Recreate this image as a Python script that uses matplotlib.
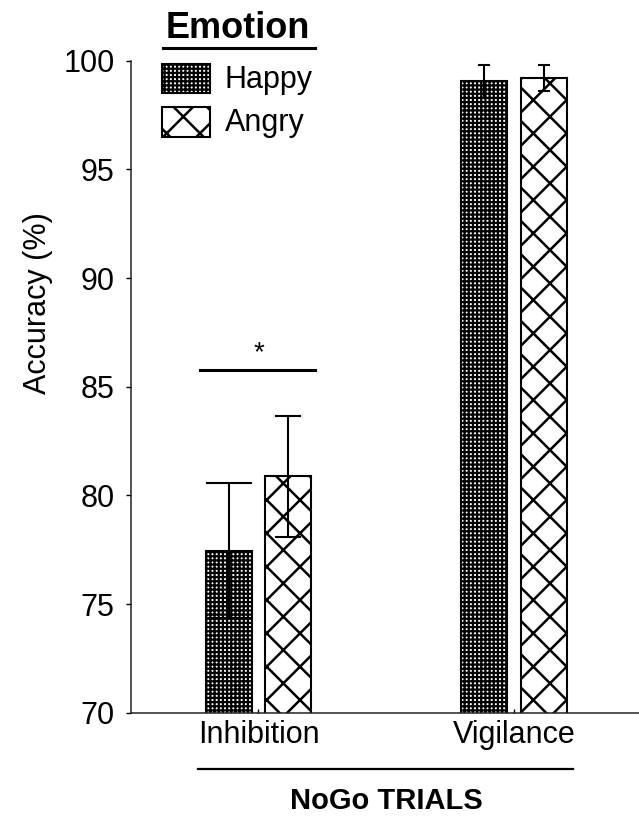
import numpy as np
import matplotlib
matplotlib.use("Agg")
import matplotlib.pyplot as plt
from matplotlib.patches import Rectangle
from matplotlib.lines import Line2D

plt.rcParams['font.family'] = ['Liberation Sans', 'DejaVu Sans']

# data
categories = ['Inhibition', 'Vigilance']
emotions = ['Happy', 'Angry']
happy = [77.45, 99.05]
angry = [80.87, 99.2]
happy_se = [3.1, 0.77]
angry_se = [2.78, 0.6]

W, H = 639, 817

def fx(x):
    return x / W

def fy(y):
    return 1 - y / H

fig = plt.figure(figsize=(W / 100, H / 100), dpi=100)
ax = fig.add_axes([fx(130.7), fy(712.7), fx(639 - 130.7), (712.7 - 60.7) / H])

x = np.arange(len(categories))
off = 0.117
width = 0.18

def set_hatch_lw(bars, lw):
    for b in bars:
        if hasattr(b, 'set_hatch_linewidth'):
            b.set_hatch_linewidth(lw)

HAPPY_HLW = 1.6
ANGRY_HLW = 1.8

with plt.rc_context({'hatch.linewidth': HAPPY_HLW}):
    b1 = ax.bar(x - off, happy, width, bottom=0, color='white', edgecolor='black',
                hatch='++++', linewidth=1.5, zorder=2)
set_hatch_lw(b1, HAPPY_HLW)
with plt.rc_context({'hatch.linewidth': ANGRY_HLW}):
    b2 = ax.bar(x + off, angry, width, bottom=0, color='white', edgecolor='black',
                hatch='x', linewidth=1.5, zorder=2)
set_hatch_lw(b2, ANGRY_HLW)

# error bars (caps differ per bar in the original)
caps_happy = [16.5, 4.5]
caps_angry = [9.7, 4.0]
for i in range(len(categories)):
    ax.errorbar(x[i] - off, happy[i], yerr=happy_se[i], fmt='none', ecolor='black',
                elinewidth=1.5, capsize=caps_happy[i], capthick=1.5, zorder=3)
    ax.errorbar(x[i] + off, angry[i], yerr=angry_se[i], fmt='none', ecolor='black',
                elinewidth=1.5, capsize=caps_angry[i], capthick=1.5, zorder=3)

ax.set_ylim(70, 100)
ax.set_xlim(-0.5, 1.489)
ax.set_yticks([70, 75, 80, 85, 90, 95, 100])
ax.set_xticks(x)
ax.set_xticklabels(categories, fontsize=22)
ax.tick_params(axis='y', labelsize=22, length=3.6, width=1, direction='out', pad=8)
ax.tick_params(axis='x', length=3, width=1, direction='in', pad=5)
for s in ['top', 'right']:
    ax.spines[s].set_visible(False)
for s in ['left', 'bottom']:
    ax.spines[s].set_linewidth(1.1)
    ax.spines[s].set_color('#222222')

# significance marker
ax.plot([-0.229, 0.221], [85.77, 85.77], color='black', lw=2.2, zorder=3)
ax.text(0.0, 85.95, '*', ha='center', va='bottom', fontsize=20)

# y label
fig.text(fx(38), fy(303), 'Accuracy (%)', rotation=90, ha='center', va='center', fontsize=22)

# legend
fig.text(fx(238), fy(28), 'Emotion', ha='center', va='center', fontsize=26, fontweight='bold')
fig.add_artist(Line2D([fx(163), fx(315)], [fy(48), fy(48)], color='black', lw=2.2))
with plt.rc_context({'hatch.linewidth': HAPPY_HLW}):
    p1 = Rectangle((fx(162), fy(93)), fx(48), 29 / H, transform=fig.transFigure,
                   facecolor='white', edgecolor='black', hatch='++++', lw=1.5)
set_hatch_lw([p1], HAPPY_HLW)
with plt.rc_context({'hatch.linewidth': ANGRY_HLW}):
    p2 = Rectangle((fx(162), fy(137)), fx(48), 30 / H, transform=fig.transFigure,
                   facecolor='white', edgecolor='black', hatch='x', lw=1.5)
set_hatch_lw([p2], ANGRY_HLW)
fig.add_artist(p1)
fig.add_artist(p2)
fig.text(fx(225), fy(80), emotions[0], ha='left', va='center', fontsize=22)
fig.text(fx(225), fy(123), emotions[1], ha='left', va='center', fontsize=22)

# group label
fig.add_artist(Line2D([fx(198), fx(573)], [fy(769), fy(769)], color='black', lw=1.6))
fig.text(fx(386), fy(801), 'NoGo TRIALS', ha='center', va='center', fontsize=21, fontweight='bold')

fig.savefig('out.png', dpi=100)
